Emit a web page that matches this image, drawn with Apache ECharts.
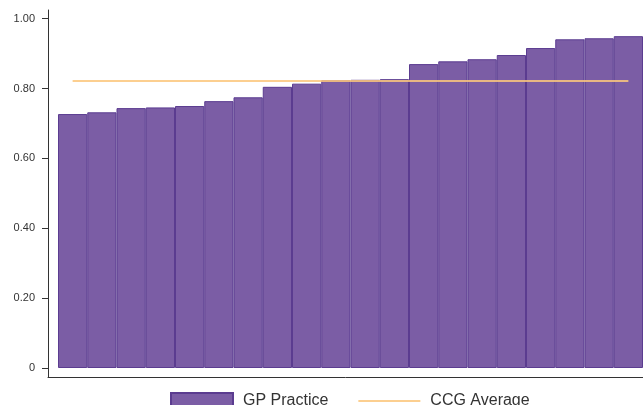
<!DOCTYPE html>
<html>
<head>
<meta charset="utf-8">
<script src="https://cdn.jsdelivr.net/npm/echarts@6/dist/echarts.min.js"></script>
<style>
html,body{margin:0;padding:0;background:#fff;}
#c{width:643px;height:405px;}
</style>
</head>
<body>
<div id="c"></div>
<script>
var categories = ['P1','P2','P3','P4','P5','P6','P7','P8','P9','P10','P11','P12','P13','P14','P15','P16','P17','P18','P19','P20'];
var practiceValues = [0.727,0.732,0.744,0.746,0.750,0.764,0.775,0.805,0.814,0.824,0.825,0.827,0.870,0.878,0.884,0.896,0.916,0.941,0.944,0.950];
var ccgAverage = 0.822;
var ccgValues = categories.map(function(){ return ccgAverage; });
var yTicks = {min: 0, max: 1, interval: 0.2};

var chart = echarts.init(document.getElementById('c'), null, {renderer: 'canvas'});
var font = 'Liberation Sans, Arial, sans-serif';
chart.setOption({
  animation: false,
  backgroundColor: '#fff',
  grid: [
    {left: 58, right: 0, top: 18.7, bottom: 37},
    {left: 48, right: 0, top: 10, bottom: 28}
  ],
  xAxis: [
    {gridIndex: 0, type: 'category', data: categories, show: false, boundaryGap: true},
    {gridIndex: 1, type: 'category', data: categories, axisLine: {show: true, lineStyle: {color: '#333', width: 1}},
     axisTick: {show: false}, axisLabel: {show: false}, splitLine: {show: false}}
  ],
  yAxis: [
    {gridIndex: 0, type: 'value', min: yTicks.min, max: yTicks.max, interval: yTicks.interval, offset: 10,
     axisLine: {show: false}, axisTick: {show: true, length: 6, lineStyle: {color: '#333'}},
     splitLine: {show: false},
     axisLabel: {margin: 13, fontFamily: font, fontSize: 11, color: '#333',
       formatter: function(v){ return v === 0 ? '0' : v.toFixed(2); }}},
    {gridIndex: 1, type: 'value', min: 0, max: 1, axisLine: {show: true, lineStyle: {color: '#333', width: 1}},
     axisTick: {show: false}, axisLabel: {show: false}, splitLine: {show: false}}
  ],
  legend: {
    top: 392, left: 170, padding: 0, itemWidth: 62, itemHeight: 16, itemGap: 29,
    textStyle: {fontFamily: font, fontSize: 16, color: '#333', padding: [0,0,0,5]},
    data: [
      {name: 'GP Practice', icon: 'rect'},
      {name: 'CCG Average', itemStyle: {opacity: 0, color: 'rgba(0,0,0,0)', borderWidth: 0}}
    ]
  },
  series: [
    {name: 'GP Practice', type: 'bar', xAxisIndex: 0, yAxisIndex: 0, data: practiceValues,
     barWidth: '100%', barCategoryGap: '0%',
     itemStyle: {color: '#7b5da5', borderColor: '#5b3c90', borderWidth: 1}},
    {name: 'CCG Average', type: 'line', xAxisIndex: 0, yAxisIndex: 0, data: ccgValues,
     showSymbol: false, symbol: 'none', z: 5,
     itemStyle: {color: '#fcc77c'},
     lineStyle: {color: '#fcc77c', width: 2, opacity: 0.85}}
  ]
});
</script>
</body>
</html>
